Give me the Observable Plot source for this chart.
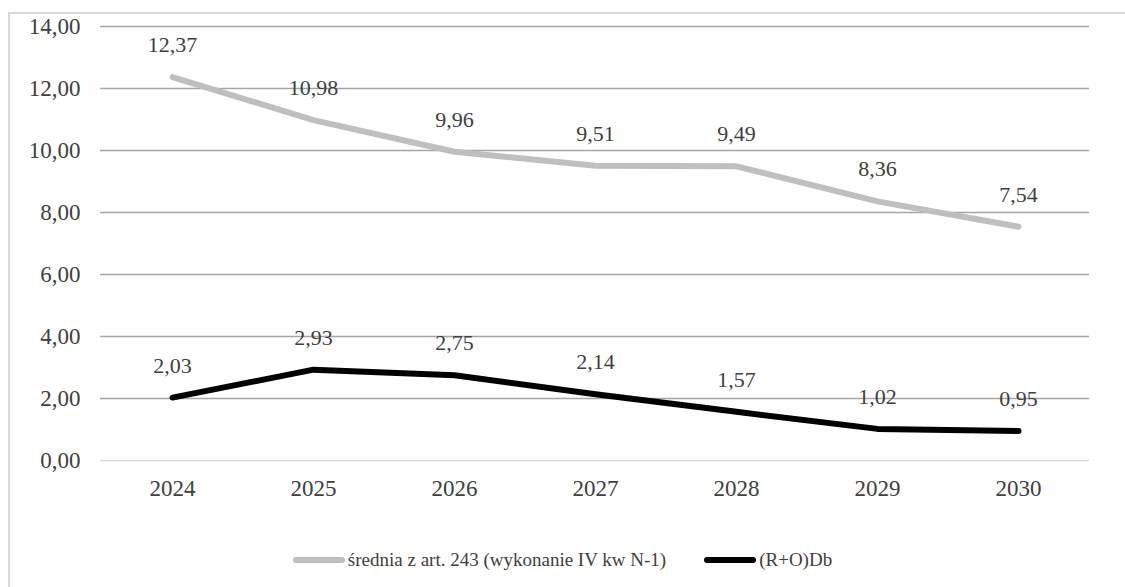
<!DOCTYPE html>
<html>
<head>
<meta charset="utf-8">
<script src="https://cdn.jsdelivr.net/npm/d3@7"></script>
<script src="https://cdn.jsdelivr.net/npm/@observablehq/plot@0.6"></script>
<style>
  body { margin: 0; background: #fff; }
  #wrap { position: relative; width: 1125px; height: 587px; overflow: hidden; font-family: "Liberation Serif", "Times New Roman", serif; }
  #frame { position: absolute; left: 8px; top: 12px; width: 1130px; height: 590px; border: 2px solid #d9d9d9; box-sizing: border-box; }
  #chart { position: absolute; left: 0; top: 0; }
  #chart svg, #chart svg text { font-family: "Liberation Serif", "Times New Roman", serif !important; }
  #legend { position: absolute; top: 549px; left: 0; width: 1125px; display: flex; justify-content: center; font-size: 19px; line-height: 22px; color: #404040; }
  .item { display: flex; align-items: center; margin: 0 19px; }
  .sw { display: inline-block; width: 52px; height: 6px; border-radius: 3px; margin-right: 3px; }
</style>
</head>
<body>
<div id="wrap">
  <div id="frame"></div>
  <div id="chart"></div>
  <div id="legend"></div>
</div>
<script>
const years = ["2024", "2025", "2026", "2027", "2028", "2029", "2030"];
const seriesNames = ["średnia z art. 243 (wykonanie IV kw N-1)", "(R+O)Db"];
const sredniaValues = [12.37, 10.98, 9.96, 9.51, 9.49, 8.36, 7.54];
const roDbValues = [2.03, 2.93, 2.75, 2.14, 1.57, 1.02, 0.95];
const yTicks = [0, 2, 4, 6, 8, 10, 12, 14];
const colors = ["#bfbfbf", "#000000"];

const fmt = v => d3.format(".2f")(v).replace(".", ",");

const data = [
  ...years.map((y, i) => ({ year: y, value: sredniaValues[i], series: seriesNames[0] })),
  ...years.map((y, i) => ({ year: y, value: roDbValues[i], series: seriesNames[1] }))
];

const chart = Plot.plot({
  width: 1125,
  height: 587,
  marginTop: 26,
  marginLeft: 100,
  marginRight: 36,
  marginBottom: 127,
  style: "font-family: 'Liberation Serif', 'Times New Roman', serif; font-size: 23px; color: #404040; background: transparent;",
  x: { type: "point", domain: years, padding: 0.5, label: null },
  y: { domain: [0, 14], label: null },
  color: { domain: seriesNames, range: colors },
  marks: [
    Plot.ruleY(yTicks, { stroke: d => d === 0 ? "#d9d9d9" : "#a6a6a6", strokeWidth: 1.5 }),
    Plot.axisY({ ticks: yTicks, tickSize: 0, tickPadding: 20, tickFormat: fmt, fontSize: 23, fill: "#404040" }),
    Plot.axisX({ tickSize: 0, tickPadding: 19, fontSize: 23, fill: "#404040" }),
    Plot.line(data, { x: "year", y: "value", z: "series", stroke: d => d.series, strokeWidth: 6, strokeLinecap: "round", strokeLinejoin: "round" }),
    Plot.text(data, { x: "year", y: "value", text: d => fmt(d.value), dy: -32, fontSize: 22, fill: "#404040" })
  ]
});
document.getElementById("chart").appendChild(chart);

const legend = document.getElementById("legend");
seriesNames.forEach((name, i) => {
  const item = document.createElement("div");
  item.className = "item";
  const sw = document.createElement("span");
  sw.className = "sw";
  sw.style.background = colors[i];
  const t = document.createElement("span");
  t.textContent = name;
  item.appendChild(sw);
  item.appendChild(t);
  legend.appendChild(item);
});
</script>
</body>
</html>
